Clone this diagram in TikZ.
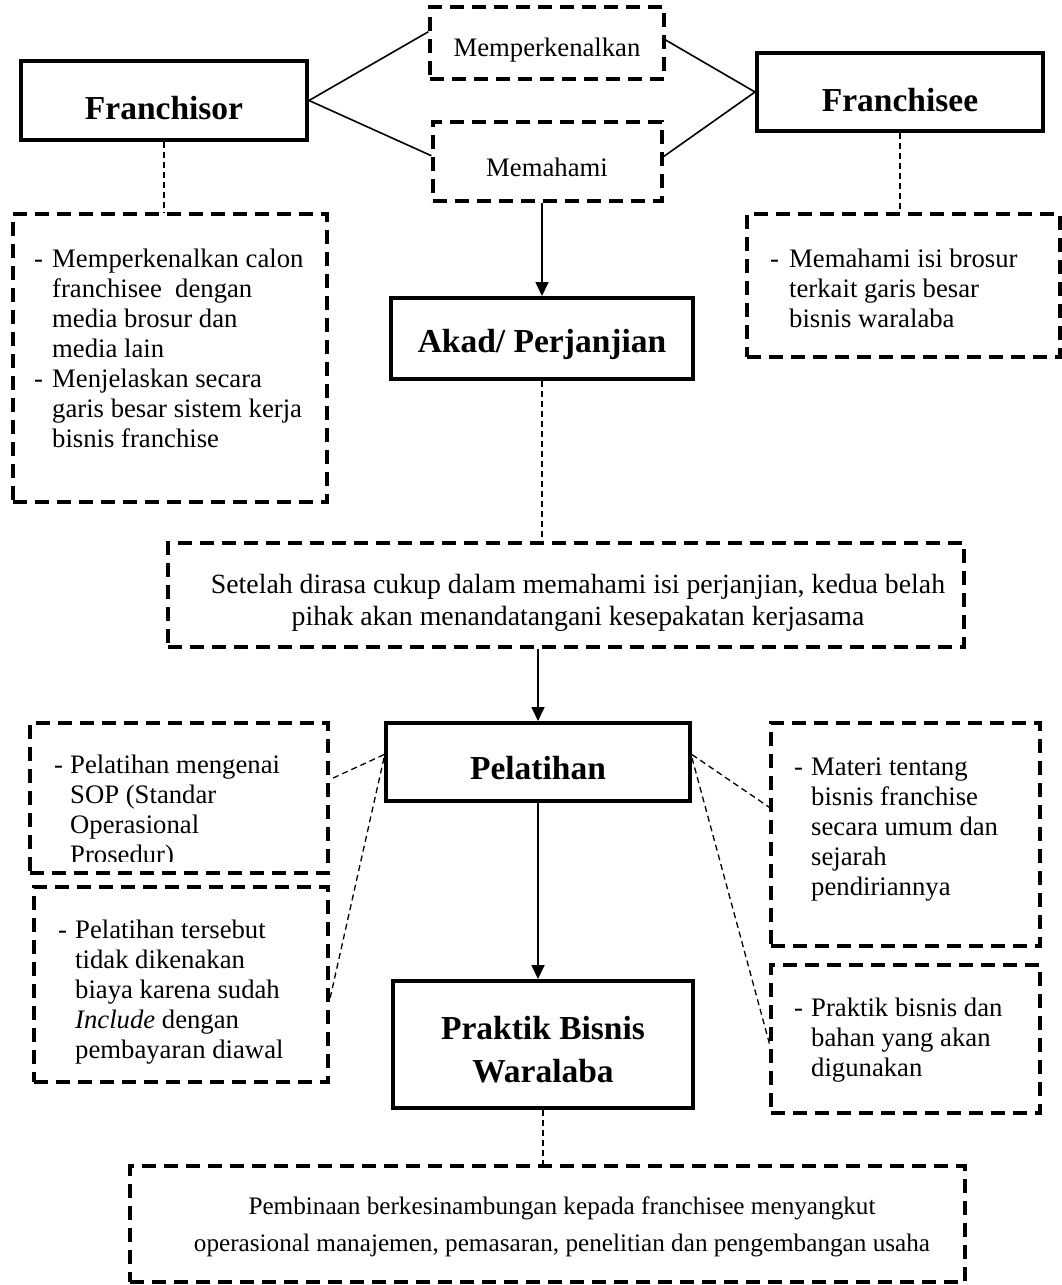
\documentclass[tikz,border=0pt]{standalone}
\usepackage{fontspec}
\setmainfont{Liberation Serif}
\usetikzlibrary{arrows.meta,calc,fit}
\begin{document}
\begin{tikzpicture}[x=1pt,y=-1pt,
 thickbox/.style={draw, line width=4pt, inner sep=0pt},
 dbox/.style={draw, line width=3.2pt, dash pattern=on 14pt off 8pt, inner sep=0pt},
 link/.style={line width=1.6pt},
 arr/.style={line width=1.7pt, -{Triangle[length=14pt,width=13pt]}},
 dlink/.style={line width=1.3pt, dash pattern=on 6pt off 4pt},
 txt/.style={inner sep=0pt, font=\fontsize{26.7}{30}\selectfont},
 ttl/.style={inner sep=0pt, font=\fontsize{33.5}{40}\selectfont\bfseries},
]
\useasboundingbox (0,0) rectangle (1062,1285);

% ---- boxes ----
\node[dbox, fit={(430,7) (664,79)}] (mk) {};
\node[dbox, fit={(433,122) (662,201)}] (mh) {};
\node[thickbox, fit={(21,61) (307,140)}] (fsor) {};
\node[thickbox, fit={(757,53) (1043,131)}] (fsee) {};
\node[dbox, fit={(13,214) (327,502)}] (descL) {};
\node[dbox, fit={(747,214) (1060,357)}] (descR) {};
\node[thickbox, fit={(391,298) (693,379)}] (akad) {};
\node[dbox, fit={(168,543) (964,647)}] (set) {};
\node[thickbox, fit={(386,723) (690,801)}] (pel) {};
\node[dbox, fit={(30,723) (328,873)}] (sop) {};
\node[dbox, fit={(34,887) (328,1082)}] (ters) {};
\node[dbox, fit={(771,723) (1040,946)}] (mat) {};
\node[dbox, fit={(771,965) (1040,1113)}] (prkR) {};
\node[thickbox, fit={(393,981) (693,1108)}] (prk) {};
\node[dbox, fit={(130,1166) (965,1282)}] (pemb) {};

% ---- titles ----
\node[ttl] (tFsor) at (164,108) {Franchisor};
\node[ttl] (tFsee) at (900,100) {Franchisee};
\node[ttl] (tAkad) at (542,344) {Akad/ Perjanjian};
\node[ttl] (tPel) at (538,768) {Pelatihan};
\node[ttl, align=center, font=\fontsize{33.5}{43}\selectfont\bfseries] (tPrk) at (543,1050) {Praktik Bisnis\\Waralaba};

% ---- texts ----
\node[txt] (tMk) at (547,50) {Memperkenalkan};
\node[txt] (tMh) at (547,167) {Memahami};
\node[txt, anchor=base west] (tDescL) at (34,267) {\begin{tabular}[t]{@{}p{18pt}@{}l@{}}
-&Memperkenalkan calon\\
&franchisee~ dengan\\
&media brosur dan\\
&media lain\\
-&Menjelaskan secara\\
&garis besar sistem kerja\\
&bisnis franchise
\end{tabular}};
\node[txt, anchor=base west] (tDescR) at (770,267) {\begin{tabular}[t]{@{}p{19pt}@{}l@{}}
-&Memahami isi brosur\\
&terkait garis besar\\
&bisnis waralaba
\end{tabular}};
\node[txt, align=center, font=\fontsize{27.8}{32}\selectfont] (tSet) at (578,603) {Setelah dirasa cukup dalam memahami isi perjanjian, kedua belah\\pihak akan menandatangani kesepakatan kerjasama};
\begin{scope}
\clip (sop.north west) rectangle ($(sop.south east)+(0,-13)$);
\node[txt, anchor=base west] (tSop) at (54,773) {\begin{tabular}[t]{@{}p{16pt}@{}l@{}}
-&Pelatihan mengenai\\
&SOP (Standar\\
&Operasional\\
&Prosedur)
\end{tabular}};
\end{scope}
\node[txt, anchor=base west] (tTers) at (58,938) {\begin{tabular}[t]{@{}p{17pt}@{}l@{}}
-&Pelatihan tersebut\\
&tidak dikenakan\\
&biaya karena sudah\\
&\textit{Include} dengan\\
&pembayaran diawal
\end{tabular}};
\node[txt, anchor=base west] (tMat) at (794,775) {\begin{tabular}[t]{@{}p{17pt}@{}l@{}}
-&Materi tentang\\
&bisnis franchise\\
&secara umum dan\\
&sejarah\\
&pendiriannya
\end{tabular}};
\node[txt, anchor=base west] (tPrkR) at (794,1016) {\begin{tabular}[t]{@{}p{17pt}@{}l@{}}
-&Praktik bisnis dan\\
&bahan yang akan\\
&digunakan
\end{tabular}};
\node[txt, align=center, font=\fontsize{25.2}{37}\selectfont] (tPemb) at (562,1227) {Pembinaan berkesinambungan kepada franchisee menyangkut\\operasional manajemen, pemasaran, penelitian dan pengembangan usaha};

% ---- connectors ----
\draw[link] (fsor.east) -- ($(mk.north west)!0.35!(mk.south west)$);
\draw[link] (fsor.east) -- ($(mh.north west)!0.43!(mh.south west)$);
\draw[link] (fsee.west) -- ($(mk.north east)!0.46!(mk.south east)$);
\draw[link] (fsee.west) -- ($(mh.north east)!0.44!(mh.south east)$);
\draw[dlink] (fsor.south) -- (fsor.south |- descL.north);
\draw[dlink] (fsee.south) -- (fsee.south |- descR.north);
\draw[arr] (akad.north |- mh.south) -- (akad.north);
\draw[dlink] (akad.south) -- (akad.south |- set.north);
\draw[arr] (pel.north |- set.south) -- (pel.north);
\draw[arr] (pel.south) -- (pel.south |- prk.north);
\draw[dlink] (prk.south) -- (prk.south |- pemb.north);
\draw[dlink] ($(pel.north west)!0.41!(pel.south west)$) -- ($(sop.north east)!0.38!(sop.south east)$);
\draw[dlink] ($(pel.north west)!0.45!(pel.south west)$) -- ($(ters.north east)!0.58!(ters.south east)$);
\draw[dlink] ($(pel.north east)!0.41!(pel.south east)$) -- ($(mat.north west)!0.38!(mat.south west)$);
\draw[dlink] ($(pel.north east)!0.45!(pel.south east)$) -- ($(prkR.north west)!0.53!(prkR.south west)$);
\end{tikzpicture}
\end{document}
